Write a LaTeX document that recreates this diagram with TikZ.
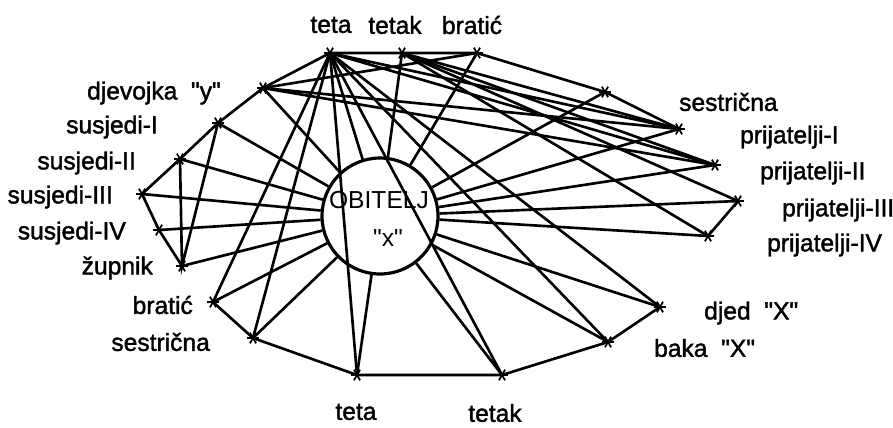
\documentclass[tikz,border=0pt]{standalone}
\usepackage{fontspec}
\setmainfont{Liberation Sans}
\newfontfamily\lblfont{Liberation Sans}[FakeBold=1.6]
\usepackage{tikz}

\begin{document}
\begin{tikzpicture}[
    x=0.02cm, y=-0.02cm,
    line width=1.5pt,
    every node/.style={font=\lblfont\fontsize{14}{16}\selectfont},
    asterisk/.style={circle, inner sep=0pt, minimum size=8pt,
      path picture={\foreach \a in {0,60,120}
        \draw[line width=1pt] (path picture bounding box.center) ++(\a:3.5pt) -- ++(\a+180:7pt);}},
    person/.style={coordinate, label={[asterisk]center:}}
]
  \useasboundingbox (0,0) rectangle (893,427);

  % Family circle
  \node[draw, circle, line width=1.8pt, minimum size=2.32cm] (ob) at (380,216) {};
  \node[font=\rmfamily\fontsize{14}{16}\selectfont] (obt) at (379,200) {OBITELJ};
  \node[font=\rmfamily\fontsize{14}{16}\selectfont] (obx) at (388,238) {\textquotedbl x\textquotedbl};

  % Persons (top)
  \node[person] (teta1)   at (330,53) {};
  \node[person] (tetak1)  at (402,53) {};
  \node[person] (bratic1) at (477,53) {};

  % Persons (left)
  \node[person] (djev)    at (263,88)  {};
  \node[person] (sus1)    at (218,123) {};
  \node[person] (sus2)    at (180,159) {};
  \node[person] (sus3)    at (142,194) {};
  \node[person] (sus4)    at (159,230) {};
  \node[person] (zupnik)  at (182,266) {};
  \node[person] (bratic2) at (213,302) {};
  \node[person] (sestr2)  at (253,338) {};

  % Persons (bottom)
  \node[person] (teta2)   at (357,375) {};
  \node[person] (tetak2)  at (502,375) {};

  % Persons (right)
  \node[person] (baka)    at (608,342) {};
  \node[person] (djed)    at (660,307) {};
  \node[person] (prij4)   at (708,236) {};
  \node[person] (prij3)   at (738,201) {};
  \node[person] (prij2)   at (715,165) {};
  \node[person] (prij1)   at (679,129) {};
  \node[person] (sestr1)  at (605,92)  {};

  % Labels
  \node (lteta1)   at (331,25) {teta};
  \node (ltetak1)  at (395,25) {tetak};
  \node (lbratic1) at (472,25) {brati\'c};
  \node[anchor=east] (ldjev)    at (228,93)  {djevojka\ \ \textquotedbl y\textquotedbl};
  \node[anchor=east] (lsus1)    at (165,127) {susjedi-I};
  \node[anchor=east] (lsus2)    at (143,163) {susjedi-II};
  \node[anchor=east] (lsus3)    at (120,197) {susjedi-III};
  \node[anchor=east] (lsus4)    at (133,233) {susjedi-IV};
  \node[anchor=east] (lzupnik)  at (160,268) {župnik};
  \node[anchor=east] (lbratic2) at (200,305) {bratić};
  \node[anchor=east] (lsestr2)  at (217,342) {sestrična};
  \node (lteta2)  at (356,412) {teta};
  \node (ltetak2) at (495,413) {tetak};
  \node[anchor=west] (lbaka)   at (647,348) {baka\ \ \textquotedbl X\textquotedbl};
  \node[anchor=west] (ldjed)   at (697,313) {djed\ \ \textquotedbl X\textquotedbl};
  \node[anchor=west] (lprij4)  at (760,245) {prijatelji-IV};
  \node[anchor=west] (lprij3)  at (775,210) {prijatelji-III};
  \node[anchor=west] (lprij2)  at (753,173) {prijatelji-II};
  \node[anchor=west] (lprij1)  at (733,137) {prijatelji-I};
  \node[anchor=west] (lsestr1) at (672,102) {sestrična};

  % Outer ring
  \draw (djev)--(teta1)--(tetak1)--(bratic1)--(sestr1)--(prij1);
  \draw (prij3)--(prij4);
  \draw (djed)--(baka)--(tetak2)--(teta2)--(sestr2)--(bratic2);
  \draw (zupnik)--(sus4)--(sus3)--(sus2)--(sus1)--(djev);
  \draw (sus2)--(zupnik)--(sus1);

  % Everyone to the family
  \foreach \n in {djev,sus1,sus2,sus3,sus4,zupnik,bratic2,sestr2,teta2,tetak2,
                  baka,djed,prij4,prij3,prij2,prij1,sestr1,bratic1,tetak1,teta1}
    \draw (\n)--(ob);

  % teta (top)
  \draw (teta1)--(bratic2);
  \draw (teta1)--(sestr2);
  \draw (teta1)--(teta2);
  \draw (teta1)--(tetak2);
  \draw (teta1)--(baka);
  \draw (teta1)--(djed);
  \draw (teta1)--(prij1);
  \draw (teta1)--(prij2);

  % tetak (top)
  \draw (tetak1)--(prij1);
  \draw (tetak1)--(prij2);
  \draw (tetak1)--(prij3);
  \draw (tetak1)--(prij4);

  % djevojka "y"
  \draw (djev)--(bratic1);
  \draw (djev)--(prij1);
  \draw (djev)--(prij2);
\end{tikzpicture}
\end{document}
